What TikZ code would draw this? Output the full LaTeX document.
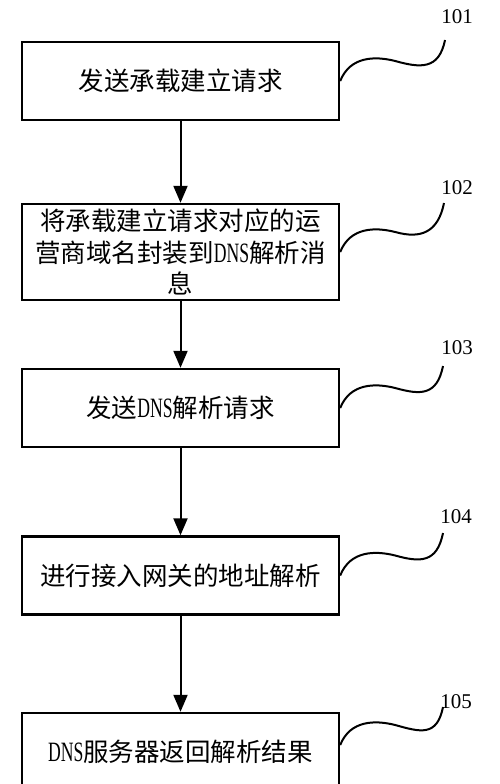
\documentclass[tikz,border=0pt]{standalone}
\usepackage{graphicx}
\usepackage{fontspec}
\setmainfont{Liberation Serif}
\newfontfamily\cjk{Noto Sans CJK SC}
\newfontfamily\latf{Liberation Serif}
\usetikzlibrary{arrows.meta,calc}
\newcommand\dns{\scalebox{0.63}[1]{\fontsize{28}{28}\selectfont\latf DNS}}
\newcommand\squig[2]{\draw[sq] ($#1$) .. controls ($#1+(10,-25)$) and ($#1+(35,-25)$) .. ($#1+(55,-20)$) .. controls ($#1+(80,-13)$) and ($(#2)+(-6,30)$) .. (#2);}
\begin{document}
\begin{tikzpicture}[x=1pt,y=-1pt,
  box/.style={draw, line width=2.4pt, minimum width=317pt, minimum height=78pt, inner sep=0pt, align=center, font=\fontsize{25.5}{31.5}\selectfont\cjk},
  arr/.style={line width=2pt, -{Triangle[length=17pt,width=14pt]}},
  sq/.style={line width=2pt},
  lab/.style={inner sep=0pt, font=\fontsize{21}{21}\selectfont\latf}]
\useasboundingbox (0,0) rectangle (500,784);
\node[box] (b1) at (180.5,81) {发送承载建立请求};
\node[box, minimum height=96pt] (b2) at (180.5,252) {将承载建立请求对应的运\\营商域名封装到\dns 解析消\\息};
\node[box] (b3) at (180.5,408) {发送\dns 解析请求};
\node[box] (b4) at (180.5,575.5) {进行接入网关的地址解析};
\node[box] (b5) at (180.5,752) {\dns 服务器返回解析结果};
\draw[arr] (b1) -- (b2);
\draw[arr] (b2) -- (b3);
\draw[arr] (b3) -- (b4);
\draw[arr] (b4) -- (b5);
\node[lab] (l1) at (457,17) {101};
\node[lab] (l2) at (457,188) {102};
\node[lab] (l3) at (457,348) {103};
\node[lab] (l4) at (456,517) {104};
\node[lab] (l5) at (456,702) {105};
\coordinate (e1) at (445,40);
\coordinate (e2) at (444,203);
\coordinate (e3) at (443,366);
\coordinate (e4) at (443,533);
\coordinate (e5) at (443,707);
\squig{(b1.east)}{e1}
\squig{(b2.east)}{e2}
\squig{(b3.east)}{e3}
\squig{(b4.east)}{e4}
\squig{(b5.east)+(0,-7)}{e5}
\end{tikzpicture}
\end{document}
